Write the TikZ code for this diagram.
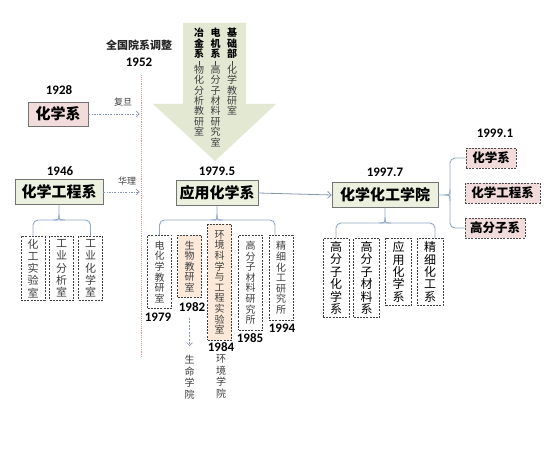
\documentclass[tikz,border=0pt]{standalone}
\usepackage{fontspec}
\newfontfamily\cjk{Noto Sans CJK SC}
\newfontfamily\yrfont{Carlito}
\usetikzlibrary{arrows.meta,calc}
\definecolor{pinkf}{HTML}{F2DCDB}
\definecolor{greenf}{HTML}{EBF1DE}
\definecolor{peachf}{HTML}{FDE9D9}
\definecolor{arrowf}{HTML}{E3E8D3}
\definecolor{brcc}{HTML}{8FA9C9}
\definecolor{arrc}{HTML}{8497B0}
\definecolor{redline}{HTML}{D99694}
\definecolor{txtgray}{HTML}{3F3F3F}
\newcommand\bk[1]{\textcolor{black}{\bfseries #1}}
\tikzset{
  every node/.style={inner sep=0pt},
  title/.style={draw=black!55, line width=0.8pt, font=\cjk\bfseries\fontsize{15}{15}\selectfont},
  rbox/.style={draw=black!70, fill=pinkf, dash pattern=on 2pt off 1.2pt, line width=0.7pt,
    font=\cjk\bfseries\fontsize{12.5}{12.5}\selectfont, minimum height=20pt},
  yr/.style={font=\yrfont\bfseries\fontsize{13}{13}\selectfont},
  vbox/.style={draw=black!75, dash pattern=on 2pt off 1.2pt, line width=0.7pt, anchor=north,
    align=center, minimum width=24pt},
  vsmall/.style={vbox, font=\cjk\fontsize{10}{10.6}\selectfont, text=txtgray},
  vmid/.style={vbox, font=\cjk\fontsize{11}{12.2}\selectfont, text=txtgray},
  vbig/.style={vbox, font=\cjk\fontsize{12}{12.4}\selectfont, text=black, minimum width=26pt},
  acol/.style={anchor=north, align=center, font=\cjk\fontsize{10}{10.4}\selectfont, text=txtgray},
  lbl/.style={font=\cjk\fontsize{9}{9}\selectfont, text=txtgray},
  plain/.style={align=center, font=\cjk\fontsize{10}{11.5}\selectfont, text=txtgray},
  brc/.style={draw=brcc, line width=0.9pt},
  darr/.style={draw=arrc, line width=0.6pt, dash pattern=on 2pt off 1.5pt on 0.5pt off 1.5pt,
    -{Straight Barb[length=3pt,width=6pt]}},
  conn/.style={draw=arrc, line width=0.8pt, -{Straight Barb[length=3.5pt,width=7pt]}}
}
\newcommand\hbr[4]{%
  \draw[brc, rounded corners=5pt] (#2) -- (#2 |- 0,#4) -- (#3 |- 0,#4) -- (#3);
  \draw[brc] ($(#1.south |- 0,#4)+(-6,0)$) .. controls (#1.south |- 0,#4) .. ($(#1.south |- 0,#4)+(0,-6)$) -- (#1.south);
  \draw[brc] ($(#1.south |- 0,#4)+(6,0)$) .. controls (#1.south |- 0,#4) .. ($(#1.south |- 0,#4)+(0,-6)$);
}
\begin{document}
\begin{tikzpicture}[x=1pt,y=-1pt]
\useasboundingbox[fill=white] (0,0) rectangle (554,457);
% big arrow
\fill[arrowf] (183,23) -- (246,23) -- (246,104) -- (276,104) -- (215,161) -- (153,104) -- (183,104) -- cycle;
\node[acol] (col1) at (232,28) {\bk{基}\\\bk{础}\\\bk{部}\\[-3pt]\rule{0.6pt}{4pt}\\[-2pt]化\\学\\教\\研\\室};
\node[acol] (col2) at (215.5,28) {\bk{电}\\\bk{机}\\\bk{系}\\[-3pt]\rule{0.6pt}{4pt}\\[-2pt]高\\分\\子\\材\\料\\研\\究\\室};
\node[acol] (col3) at (199,28) {\bk{冶}\\\bk{金}\\\bk{系}\\[-3pt]\rule{0.6pt}{4pt}\\[-2pt]物\\化\\分\\析\\教\\研\\室};
% 1952
\node[font=\cjk\bfseries\fontsize{11}{11}\selectfont, text=black!85] (qg) at (139,45) {全国院系调整};
\node[yr] (y52) at (139,62) {1952};
\coordinate (vt) at (141,75);
\coordinate (vb) at (141,357);
\draw[redline, densely dotted, line width=0.9pt] (vt) -- (vb);
% 1928
\node[yr] (y28) at (59,90) {1928};
\node[title, fill=pinkf, minimum width=60pt, minimum height=24pt] (hx) at (58,114) {化学系};
\node[lbl] (fd) at (123,102) {复旦};
\draw[darr] (hx.east) -- ([xshift=-1.5pt]hx.east -| vt);
% 1946
\node[yr] (y46) at (60,171) {1946};
\node[title, fill=greenf, minimum width=88pt, minimum height=25pt] (hg) at (59,192) {化学工程系};
\node[lbl] (hl) at (127,181) {华理};
\draw[darr] (hg.east) -- ([xshift=-1.5pt]hg.east -| vt);
\node[vmid, minimum height=64pt] (c1) at (33,236) {化\\工\\实\\验\\室};
\node[vmid, minimum height=64pt] (c2) at (61.5,236) {工\\业\\分\\析\\室};
\node[vmid, minimum height=64pt] (c3) at (90.5,236) {工\\业\\化\\学\\室};
\hbr{hg}{c1.north}{c3.north}{220}
% 1979.5
\node[yr] (y795) at (217,171) {1979.5};
\node[title, fill=greenf, minimum width=82pt, minimum height=25pt] (yy) at (217,193) {应用化学系};
\node[vsmall, minimum height=73pt] (a1) at (159.5,235) {电\\化\\学\\教\\研\\室};
\node[vsmall, fill=peachf, minimum height=62pt] (a2) at (189.5,235) {生\\物\\教\\研\\室};
\node[vsmall, fill=peachf, minimum height=116pt] (a3) at (219.5,224) {环\\境\\科\\学\\与\\工\\程\\实\\验\\室};
\node[vsmall, minimum height=95pt] (a4) at (250.5,235) {高\\分\\子\\材\\料\\研\\究\\所};
\node[vsmall, minimum height=85pt] (a5) at (281,235) {精\\细\\化\\工\\研\\究\\所};
\hbr{yy}{a1.north}{[xshift=-6pt]a5.north}{220}
\node[yr] (y79) at (158,317) {1979};
\node[yr] (y82) at (192,307) {1982};
\node[yr] (y84) at (221,347) {1984};
\node[yr] (y85) at (250,338) {1985};
\node[yr] (y94) at (282,328) {1994};
\node[plain, anchor=north] (sm) at (189.5,355) {生\\命\\学\\院};
\node[plain, anchor=north] (hj) at (221,355) {环\\境\\学\\院};
\draw[draw=arrc, line width=0.6pt, dash pattern=on 2pt off 1.5pt, -{Straight Barb[length=3pt,width=6pt]}] ([yshift=-6pt]y82.south -| sm) -- ([yshift=9pt]sm.north);
% 1997.7
\node[yr] (y977) at (385,172) {1997.7};
\node[title, fill=greenf, minimum width=106pt, minimum height=25pt] (hh) at (385,195) {化学化工学院};
\draw[conn] (yy.east) -- (hh.west);
\node[vbig, minimum height=79pt] (h1) at (336,238) {高\\分\\子\\化\\学\\系};
\node[vbig, minimum height=79pt] (h2) at (366.5,238) {高\\分\\子\\材\\料\\系};
\node[vbig, minimum height=67pt] (h3) at (398.5,238) {应\\用\\化\\学\\系};
\node[vbig, minimum height=67pt] (h4) at (430,238) {精\\细\\化\\工\\系};
\hbr{hh}{h1.north}{[xshift=5pt]h4.north}{223}
% 1999.1
\node[yr] (y991) at (495,133) {1999.1};
\node[rbox, minimum width=50pt] (r1) at (491,158) {化学系};
\node[rbox, minimum width=75pt] (r2) at (502.5,193) {化学工程系};
\node[rbox, minimum width=60pt] (r3) at (495,228) {高分子系};
\draw[brc, rounded corners=5pt] (r1.west) -- (r1.west -| 450,0) -- (r3.west -| 450,0) -- (r3.west);
\draw[brc] ($(hh.east -| 450,0)+(0,-6)$) .. controls (hh.east -| 450,0) .. ($(hh.east -| 450,0)+(-6,0)$) -- (hh.east);
\draw[brc] ($(hh.east -| 450,0)+(0,6)$) .. controls (hh.east -| 450,0) .. ($(hh.east -| 450,0)+(-6,0)$);
\end{tikzpicture}
\end{document}
